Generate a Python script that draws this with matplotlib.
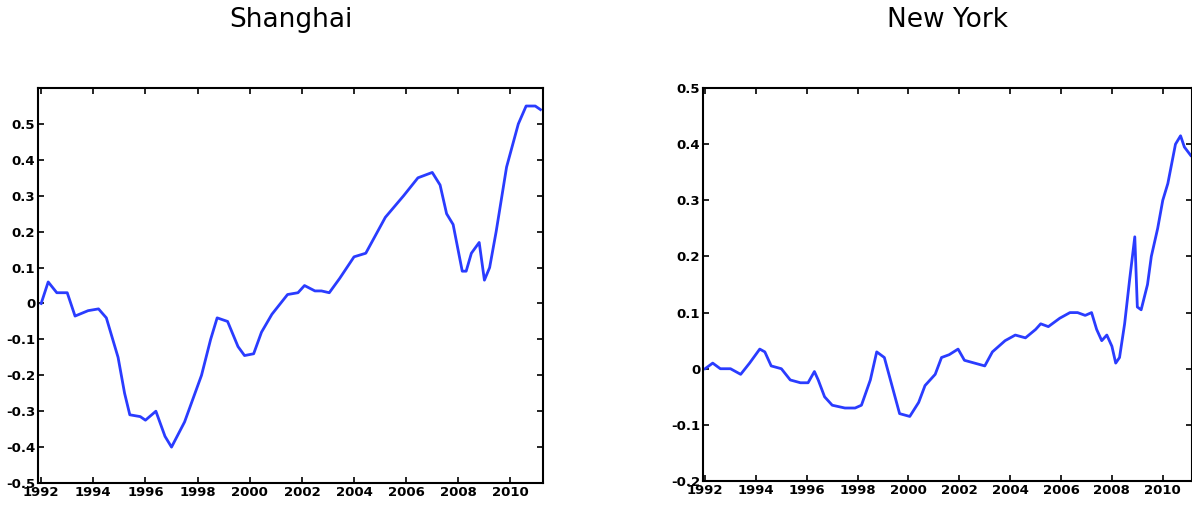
import matplotlib
matplotlib.use("Agg")
import matplotlib.pyplot as plt

sh_year = [1992.0,1992.27,1992.6,1993.0,1993.3,1993.8,1994.2,1994.5,1994.95,1995.2,1995.4,1995.8,1996.0,1996.4,1996.75,1997.0,1997.5,1997.9,1998.15,1998.5,1998.75,1999.15,1999.55,1999.8,2000.15,2000.45,2000.85,2001.45,2001.85,2002.1,2002.5,2002.75,2003.05,2003.45,2004.0,2004.45,2004.75,2005.2,2005.9,2006.45,2007.0,2007.3,2007.55,2007.8,2008.15,2008.3,2008.5,2008.8,2009.0,2009.2,2009.45,2009.85,2010.3,2010.6,2010.95,2011.15]
sh_val = [0.0,0.06,0.03,0.03,-0.035,-0.02,-0.015,-0.04,-0.15,-0.25,-0.31,-0.315,-0.325,-0.3,-0.37,-0.4,-0.33,-0.25,-0.2,-0.1,-0.04,-0.05,-0.12,-0.145,-0.14,-0.08,-0.03,0.025,0.03,0.05,0.035,0.035,0.03,0.07,0.13,0.14,0.18,0.24,0.3,0.35,0.365,0.33,0.25,0.22,0.09,0.09,0.14,0.17,0.065,0.1,0.2,0.38,0.5,0.55,0.55,0.54]

ny_year = [1992.0,1992.3,1992.6,1993.0,1993.4,1993.75,1994.15,1994.35,1994.6,1995.0,1995.35,1995.75,1996.05,1996.3,1996.45,1996.7,1997.0,1997.5,1997.9,1998.15,1998.5,1998.75,1999.05,1999.35,1999.65,2000.05,2000.4,2000.65,2001.05,2001.3,2001.6,2001.95,2002.2,2002.6,2003.0,2003.3,2003.8,2004.2,2004.6,2005.0,2005.2,2005.5,2005.95,2006.35,2006.65,2006.95,2007.2,2007.4,2007.6,2007.8,2008.0,2008.15,2008.3,2008.5,2008.7,2008.9,2009.0,2009.15,2009.4,2009.55,2009.8,2010.0,2010.2,2010.5,2010.7,2010.85,2011.1]
ny_val = [0.0,0.01,0.0,0.0,-0.01,0.01,0.035,0.03,0.005,0.0,-0.02,-0.025,-0.025,-0.005,-0.02,-0.05,-0.065,-0.07,-0.07,-0.065,-0.02,0.03,0.02,-0.03,-0.08,-0.085,-0.06,-0.03,-0.01,0.02,0.025,0.035,0.015,0.01,0.005,0.03,0.05,0.06,0.055,0.07,0.08,0.075,0.09,0.1,0.1,0.095,0.1,0.07,0.05,0.06,0.04,0.01,0.02,0.08,0.16,0.235,0.11,0.105,0.15,0.2,0.25,0.3,0.33,0.4,0.415,0.395,0.38]

titles = ["Shanghai", "New York"]
xticks = [1992,1994,1996,1998,2000,2002,2004,2006,2008,2010]

fig = plt.figure(figsize=(11.92,5.07), dpi=100)
ax1 = fig.add_axes([0.0319,0.0473,0.4237,0.779])
ax2 = fig.add_axes([0.5898,0.0513,0.4102,0.775])

specs = [(ax1, sh_year, sh_val, (1991.88,2011.25), (-0.5,0.6), [-0.5,-0.4,-0.3,-0.2,-0.1,0,0.1,0.2,0.3,0.4,0.5]),
         (ax2, ny_year, ny_val, (1991.92,2011.15), (-0.2,0.5), [-0.2,-0.1,0,0.1,0.2,0.3,0.4,0.5])]
for (ax, x, y, xl, yl, yt), t in zip(specs, titles):
    ax.plot(x, y, color="#2a3cff", lw=2)
    ax.set_xlim(*xl); ax.set_ylim(*yl)
    ax.set_xticks(xticks); ax.set_yticks(yt)
    ax.set_yticklabels(["0" if v == 0 else f"{v:g}" for v in yt])
    ax.tick_params(direction="in", top=True, right=True, length=4, width=1.2, labelsize=9.5, pad=2)
    for lab in ax.get_xticklabels() + ax.get_yticklabels():
        lab.set_fontweight("bold")
    for s in ax.spines.values():
        s.set_linewidth(1.5)
    ax.set_title(t, fontsize=19, pad=44, family=["Liberation Sans Narrow", "DejaVu Sans"])

fig.savefig("out.png", dpi=100)
